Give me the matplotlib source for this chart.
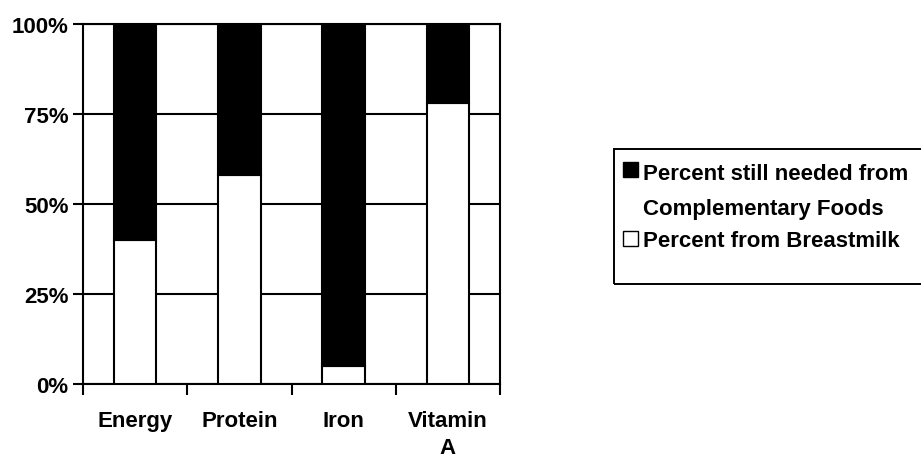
import numpy as np
import matplotlib.pyplot as plt
from matplotlib.patches import Rectangle

# data
nutrients = ['Energy', 'Protein', 'Iron', 'Vitamin\nA']
from_breastmilk = [40, 58, 5, 78]
still_needed = [100 - v for v in from_breastmilk]
series_labels = ['Percent still needed from\nComplementary Foods',
                 'Percent from Breastmilk']
series_colors = ['black', 'white']

plt.rcParams['font.family'] = ['Liberation Sans', 'DejaVu Sans']
plt.rcParams['font.weight'] = 'bold'

W, H = 921, 460
fig = plt.figure(figsize=(W / 100, H / 100), dpi=100)
ax = fig.add_axes([83 / W, 1 - 385 / H, 417 / W, 360 / H])

x = np.arange(len(nutrients))
ax.bar(x, from_breastmilk, width=0.41, color=series_colors[1],
       edgecolor='black', linewidth=1.5, zorder=3)
ax.bar(x, still_needed, width=0.41, bottom=from_breastmilk,
       color=series_colors[0], edgecolor='black', linewidth=1.5, zorder=3)

ax.set_xlim(-0.5, 3.5)
ax.set_ylim(0, 100)
ax.set_yticks([0, 25, 50, 75, 100])
ax.set_yticklabels(['0%', '25%', '50%', '75%', '100%'])
ax.yaxis.grid(True, color='black', linewidth=1.5, zorder=0)

# ticks at the category borders, labels at the centres
ax.set_xticks(np.arange(-0.5, 4, 1))
ax.set_xticklabels([])
ax.set_xticks(x, minor=True)
ax.set_xticklabels(nutrients, minor=True, linespacing=1.38)
ax.tick_params(axis='x', which='minor', length=0, pad=18.5, labelsize=16)
ax.tick_params(axis='x', which='major', length=8, width=1.5, direction='out')
ax.tick_params(axis='y', length=7, width=1.5, labelsize=16, pad=3.5)
for s in ax.spines.values():
    s.set_linewidth(1.5)

# legend box, drawn by hand so the marker sits on the first text line
fig.patches.append(Rectangle((614 / W, 1 - 285 / H), 320 / W, 135 / H,
                             transform=fig.transFigure, fill=False,
                             edgecolor='black', linewidth=1.4, clip_on=False))
marker_bottoms = [178, 247]
text_baselines = [215, 247]  # baseline of the last line of each label
for label, color, mb, tb in zip(series_labels, series_colors,
                                marker_bottoms, text_baselines):
    fig.patches.append(Rectangle((623 / W, 1 - mb / H), 15 / W, 15 / H,
                                 transform=fig.transFigure, facecolor=color,
                                 edgecolor='black', linewidth=1.0))
    fig.text(643 / W, 1 - tb / H, label, fontsize=16, fontweight='bold',
             va='baseline', ha='left', linespacing=1.85)

fig.savefig('out.png', dpi=100)
